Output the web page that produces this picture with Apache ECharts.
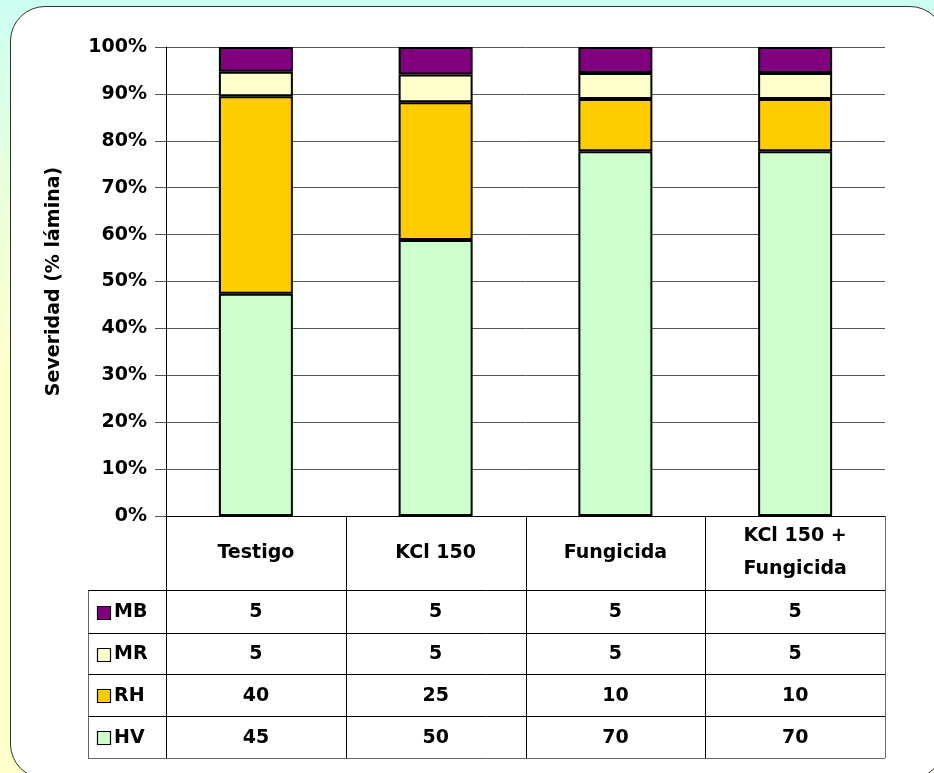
<!DOCTYPE html>
<html>
<head>
<meta charset="utf-8">
<script src="https://cdn.jsdelivr.net/npm/echarts@6/dist/echarts.min.js"></script>
<style>
  html, body { margin: 0; padding: 0; width: 934px; height: 773px; overflow: hidden;
    background: linear-gradient(to bottom, #ccfff2 0%, #e6ffdd 22%, #ffffcc 48%, #ffffcc 100%); }
  #panel { position: absolute; left: 10px; top: 6px; width: 935px; height: 773px; background: #fff;
    border: 1.5px solid #333; border-radius: 35px; box-sizing: border-box; }
  #chart { position: absolute; left: 0; top: 0; width: 934px; height: 773px; }
</style>
</head>
<body>
<div id="panel"></div>
<div id="chart"></div>
<script>
// Treatments (columns)
const categories = ['Testigo', 'KCl 150', 'Fungicida', 'KCl 150 +\nFungicida'];

// Severity class values per treatment
const MB = [5, 5, 5, 5];
const MR = [5, 5, 5, 5];
const RH = [40, 25, 10, 10];
const HV = [45, 50, 70, 70];

// Table rows, top to bottom
const tableRows = [
  { name: 'MB', values: MB, color: '#800080' },
  { name: 'MR', values: MR, color: '#FFFFCC' },
  { name: 'RH', values: RH, color: '#FFCC00' },
  { name: 'HV', values: HV, color: '#CCFFCC' }
];
// Stacking order, bottom to top
const stackOrder = ['HV', 'RH', 'MR', 'MB'];

const FONT = '"DejaVu Sans", "Liberation Sans", Arial, sans-serif';
const FS = 19;
const totals = categories.map((_, i) => MB[i] + MR[i] + RH[i] + HV[i]);

const chart = echarts.init(document.getElementById('chart'), null, { renderer: 'canvas' });

const series = stackOrder.map(name => {
  const row = tableRows.find(r => r.name === name);
  return {
    name: name,
    type: 'bar',
    stack: 'total',
    barWidth: 74,
    data: row.values.map((v, i) => v / totals[i] * 100),
    itemStyle: { color: row.color, borderColor: '#000', borderWidth: 2 },
    emphasis: { disabled: true }
  };
});

const option = {
  animation: false,
  backgroundColor: 'transparent',
  grid: { left: 166, right: 49, top: 47, bottom: 257, containLabel: false },
  xAxis: {
    type: 'category',
    data: categories,
    axisLine: { show: true, lineStyle: { color: '#000', width: 1 } },
    axisTick: { show: false },
    axisLabel: {
      show: true, interval: 0, margin: 37, verticalAlign: 'middle',
      color: '#000', fontFamily: FONT, fontWeight: 'bold', fontSize: FS, lineHeight: 33
    },
    splitLine: { show: false }
  },
  yAxis: {
    type: 'value',
    min: 0, max: 100, interval: 10,
    name: 'Severidad (% lámina)',
    nameLocation: 'middle',
    nameGap: 102,
    nameRotate: 90,
    nameTextStyle: { color: '#000', fontFamily: FONT, fontWeight: 'bold', fontSize: FS },
    axisLine: { show: true, lineStyle: { color: '#000', width: 1 } },
    axisTick: { show: true, length: 11, lineStyle: { color: '#555' } },
    axisLabel: { color: '#000', fontFamily: FONT, fontWeight: 'bold', fontSize: FS, margin: 19,
      formatter: '{value}%' },
    splitLine: { show: true, lineStyle: { color: '#555', width: 1 } }
  },
  series: series
};

chart.setOption(option);

// Data table under the plot
function buildTable() {
  const centers = categories.map((_, i) => chart.convertToPixel({ xAxisIndex: 0 }, i));
  const band = centers[1] - centers[0];
  const left = centers[0] - band / 2;
  const right = centers[centers.length - 1] + band / 2;
  const top = chart.convertToPixel({ yAxisIndex: 0 }, 0);
  const rowLines = [590, 633, 674, 716, 758];
  const legendLeft = 88;
  const els = [];
  const line = (x1, y1, x2, y2, color) => els.push({
    type: 'line', silent: true, z: 10,
    shape: { x1, y1, x2, y2 },
    style: { stroke: color || '#000', lineWidth: 1 }
  });
  // column separators
  for (let i = 0; i <= categories.length; i++) {
    const x = Math.round(left + i * band) + 0.5;
    line(x, top, x, rowLines[rowLines.length - 1], i === categories.length ? '#666' : '#000');
  }
  // legend column border
  line(legendLeft + 0.5, rowLines[0], legendLeft + 0.5, rowLines[rowLines.length - 1], '#666');
  // row separators
  rowLines.forEach((y, k) => line(legendLeft, y + 0.5, right, y + 0.5, k === rowLines.length - 1 ? '#666' : '#000'));

  tableRows.forEach((row, r) => {
    const yc = (rowLines[r] + rowLines[r + 1]) / 2;
    els.push({
      type: 'rect', silent: true, z: 10,
      shape: { x: 97.5, y: Math.round(yc - 6) + 0.5, width: 13, height: 13 },
      style: { fill: row.color, stroke: '#000', lineWidth: 1.2 }
    });
    els.push({
      type: 'text', silent: true, z: 10,
      style: { text: row.name, x: 114, y: yc + 1, align: 'left', verticalAlign: 'middle',
        fill: '#000', font: 'bold ' + FS + 'px ' + FONT }
    });
    row.values.forEach((v, i) => {
      els.push({
        type: 'text', silent: true, z: 10,
        style: { text: String(v), x: centers[i], y: yc + 1, align: 'center', verticalAlign: 'middle',
          fill: '#000', font: 'bold ' + FS + 'px ' + FONT }
      });
    });
  });
  chart.setOption({ graphic: els });
}
buildTable();
</script>
</body>
</html>
